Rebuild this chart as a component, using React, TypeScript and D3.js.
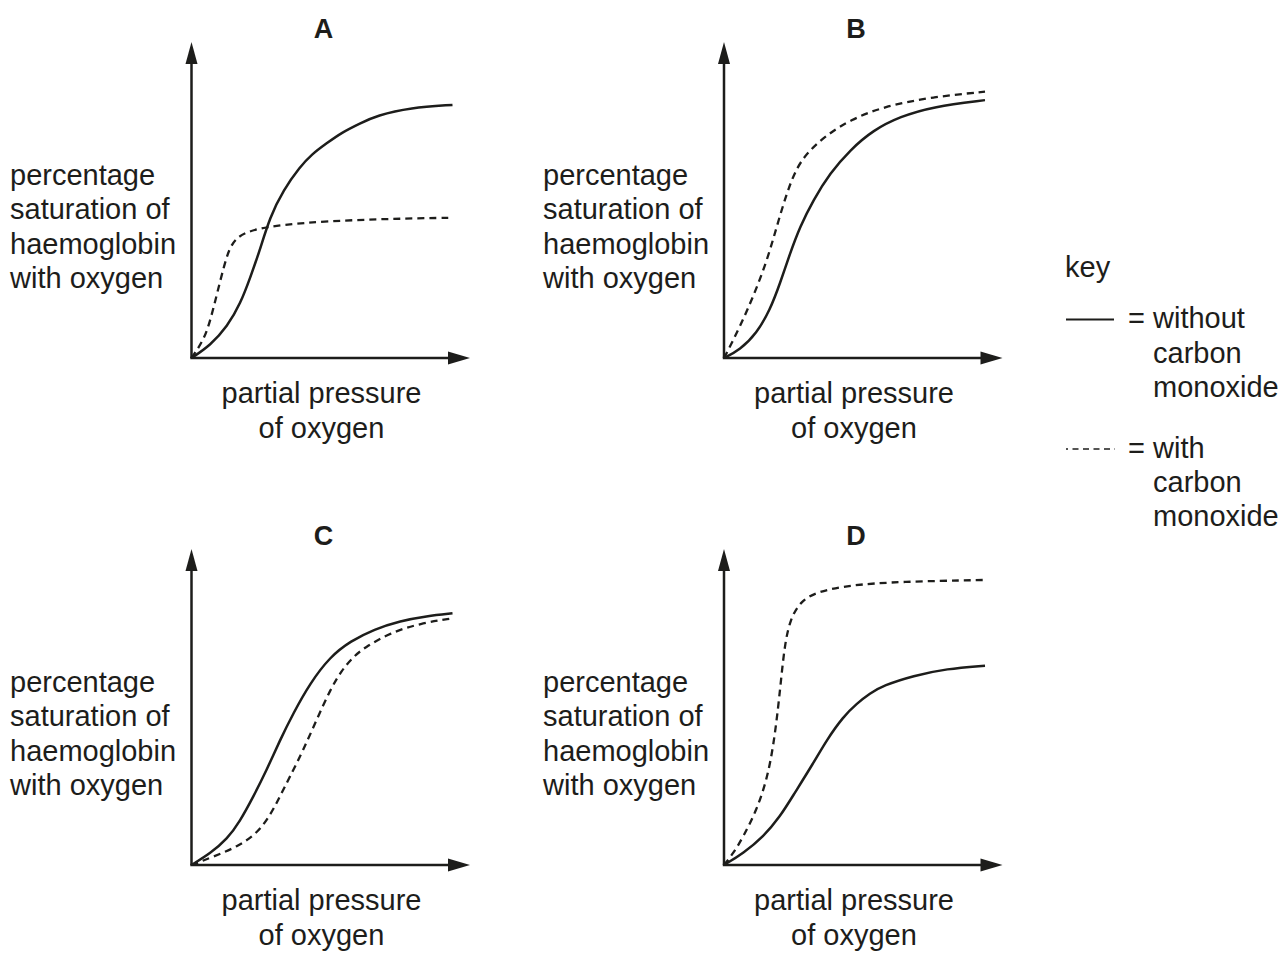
import * as d3 from "d3";

// partial pressure (0-100) / percentage saturation (0-100)
type Pt = [number, number];

const panelNames = ["A", "B", "C", "D"];

const aWithout: Pt[] = [
  [0, 0], [7.3, 4.6], [13.7, 11.2], [18.8, 19.5], [22.6, 29], [25.8, 37.4], [30.1, 50.5],
  [35.2, 60], [41.6, 68.3], [46, 72.7], [51.8, 76.7], [57.5, 80.5], [64.6, 83.8], [71, 86.6],
  [83.9, 89.4], [100, 90.4],
];
const aWith: Pt[] = [
  [0, 0], [4.7, 6.4], [7.3, 13.6], [9.8, 23.1], [12.4, 32.6], [14.3, 38.6], [16.9, 42.7],
  [21.3, 45.1], [29, 46.9], [43, 48.3], [62.2, 49.3], [81.3, 49.8], [100, 50.1],
];
const bWithout: Pt[] = [
  [0, 0], [6.1, 2.9], [12.5, 8.8], [17.6, 17.1], [21.5, 26.7], [25.3, 37.4], [29.1, 46.9],
  [34.2, 56.4], [40.6, 66], [48.3, 74.3], [57.2, 81.4], [67.4, 86.2], [80.2, 89.8], [100, 92.1],
];
const bWith: Pt[] = [
  [0, 0], [1, 1.7], [6.1, 11.2], [11.2, 21.9], [16.4, 34.5], [20.2, 46.9], [24, 58.8],
  [27.9, 68.3], [32.9, 74.3], [39.3, 79.6], [48.3, 85], [61, 89.8], [80.2, 93.3], [100, 95.1],
];
const cWithout: Pt[] = [
  [0, 0], [7.3, 4.2], [13.7, 9.3], [18.5, 15.5], [23.7, 24.4], [28.8, 33.9], [33.9, 44.6],
  [39, 54.2], [45.4, 64.9], [53.1, 74.4], [61, 80], [70, 84.2], [80, 87.2], [90, 88.9], [100, 89.9],
];
const cWith: Pt[] = [
  [0, 0], [8.5, 3], [17.5, 6.5], [25.2, 11.3], [30.3, 18], [33.9, 24.5], [37.7, 31.5],
  [42.8, 41], [48, 52], [53.1, 62.5], [57.5, 69.5], [62, 74.3], [66, 77.5], [76.2, 83],
  [87.7, 86.3], [100, 88.1],
];
const dWithout: Pt[] = [
  [0, 0], [7.4, 4.2], [15.1, 10.1], [21.5, 17.3], [26.6, 25], [34.2, 36.3],
  [39.3, 44.6], [45.7, 53], [50.8, 57.6], [55.9, 61.3], [61, 64.1], [72.5, 67.6],
  [85.3, 70.1], [100, 71.2],
];
const dWith: Pt[] = [
  [0, 0], [3.6, 4.2], [7.4, 10.1], [12.5, 19.6], [16.4, 30.4], [18.9, 42.3], [20.8, 56.5],
  [22.1, 68.5], [23.4, 79.2], [25.3, 87.5], [29.1, 94], [35.5, 97.6], [48.3, 100],
  [67.4, 101.2], [100, 101.8],
];

const withoutSeries = [aWithout, bWithout, cWithout, dWithout];
const withSeries = [aWith, bWith, cWith, dWith];

const yLabelLines = ["percentage", "saturation of", "haemoglobin", "with oxygen"];
const xLabelLines = ["partial pressure", "of oxygen"];
const keyTitle = "key";
const keyWithout = ["= without", "carbon", "monoxide"];
const keyWith = ["= with", "carbon", "monoxide"];

const W = 1280;
const H = 954;
const ink = "#1d1d1b";
const font = "'Liberation Sans', Arial, Helvetica, sans-serif";

// plot origins for the 2x2 grid
const origins = [
  { x: 191.5, y: 358, labelX: 10 },
  { x: 724, y: 358, labelX: 543 },
  { x: 191.5, y: 865, labelX: 10 },
  { x: 724, y: 865, labelX: 543 },
];

const Panel = ({ i }: { i: number }) => {
  const o = origins[i];
  const x = d3.scaleLinear().domain([0, 100]).range([o.x, o.x + 261]);
  const y = d3.scaleLinear().domain([0, 100]).range([o.y, o.y - 280]);
  const line = d3
    .line<Pt>()
    .x((d) => x(d[0]))
    .y((d) => y(d[1]))
    .curve(d3.curveBasis);

  const topY = o.y - 316;
  const rightX = o.x + 278.5;

  return (
    <g>
      <text
        x={o.x + 132}
        y={o.y - 320}
        textAnchor="middle"
        fontWeight="bold"
        fontSize={27}
        fill={ink}
      >
        {panelNames[i]}
      </text>
      {/* axes */}
      <line x1={o.x} y1={o.y} x2={o.x} y2={topY + 18} stroke={ink} strokeWidth={2.5} />
      <path
        d={`M${o.x},${topY} L${o.x - 6},${topY + 22} L${o.x + 6},${topY + 22} Z`}
        fill={ink}
      />
      <line x1={o.x - 1.2} y1={o.y} x2={rightX - 18} y2={o.y} stroke={ink} strokeWidth={2.5} />
      <path
        d={`M${rightX},${o.y} L${rightX - 22},${o.y - 6.5} L${rightX - 22},${o.y + 6.5} Z`}
        fill={ink}
      />
      {/* curves */}
      <path d={line(withSeries[i]) ?? ""} fill="none" stroke={ink} strokeWidth={2.3} strokeDasharray="7,5" />
      <path d={line(withoutSeries[i]) ?? ""} fill="none" stroke={ink} strokeWidth={2.5} />
      {/* labels */}
      {yLabelLines.map((t, k) => (
        <text key={t} x={o.labelX} y={o.y - 173 + k * 34.3} fontSize={29} fill={ink}>
          {t}
        </text>
      ))}
      {xLabelLines.map((t, k) => (
        <text
          key={t}
          x={o.x + 130}
          y={o.y + 45 + k * 34.5}
          textAnchor="middle"
          fontSize={29}
          fill={ink}
        >
          {t}
        </text>
      ))}
    </g>
  );
};

const Key = () => {
  return (
    <g fontSize={29} fill={ink}>
      <text x={1065} y={277}>
        {keyTitle}
      </text>
      <line x1={1066} y1={319.5} x2={1114} y2={319.5} stroke={ink} strokeWidth={2} />
      <line
        x1={1066}
        y1={449}
        x2={1115}
        y2={449}
        stroke={ink}
        strokeWidth={1.5}
        strokeDasharray="6,4.5"
        strokeDashoffset={4}
      />
      {keyWithout.map((t, k) => (
        <text key={"a" + k} x={k === 0 ? 1128 : 1153} y={328 + k * 34.5}>
          {t}
        </text>
      ))}
      {keyWith.map((t, k) => (
        <text key={"b" + k} x={k === 0 ? 1128 : 1153} y={458 + k * 34}>
          {t}
        </text>
      ))}
    </g>
  );
};

export default function App() {
  return (
    <svg
      width={W}
      height={H}
      viewBox={`0 0 ${W} ${H}`}
      style={{ position: "absolute", left: 0, top: 0, background: "#fff", fontFamily: font }}
    >
      <rect width={W} height={H} fill="#fff" />
      {panelNames.map((_, i) => (
        <Panel key={i} i={i} />
      ))}
      <Key />
    </svg>
  );
}
